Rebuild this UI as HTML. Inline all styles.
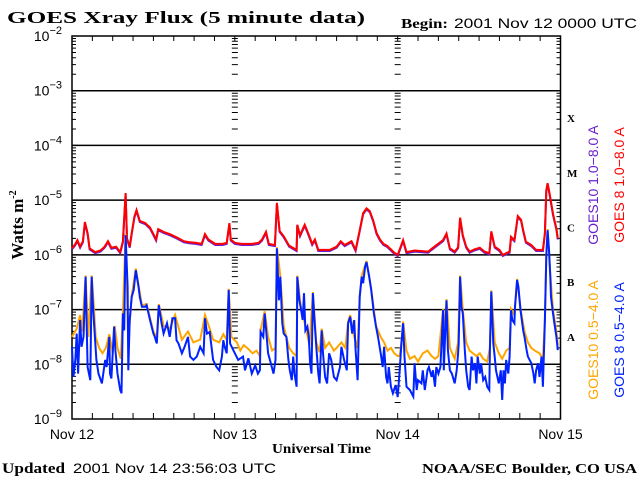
<!DOCTYPE html>
<html><head><meta charset="utf-8"><style>
html,body{margin:0;padding:0;background:#fff;}
svg{display:block;}
.sr{font-family:"Liberation Serif",serif;font-weight:bold;}
.ss{font-family:"Liberation Sans",sans-serif;}
</style></head><body>
<svg id="chart" width="640" height="480" viewBox="0 0 640 480" xmlns="http://www.w3.org/2000/svg">
<rect width="640" height="480" fill="#fff"/>
<text x="7" y="23" class="sr" font-size="17" textLength="358" lengthAdjust="spacingAndGlyphs">GOES Xray Flux (5 minute data)</text>
<text x="401" y="28" class="sr" font-size="14" textLength="47" lengthAdjust="spacingAndGlyphs">Begin:</text>
<text x="454" y="28" class="ss" font-size="14" textLength="183" lengthAdjust="spacingAndGlyphs">2001 Nov 12 0000 UTC</text>
<text transform="translate(23,225) rotate(-90)" text-anchor="middle" class="sr" font-size="17">Watts m<tspan font-size="10" dy="-7">-2</tspan></text>
<text x="272" y="453" class="sr" font-size="14" textLength="99" lengthAdjust="spacingAndGlyphs">Universal Time</text>
<text x="2" y="473" class="sr" font-size="15" textLength="63" lengthAdjust="spacingAndGlyphs">Updated</text>
<text x="73" y="473" class="ss" font-size="14" textLength="203" lengthAdjust="spacingAndGlyphs">2001 Nov 14 23:56:03 UTC</text>
<text x="422" y="473" class="sr" font-size="14" textLength="215" lengthAdjust="spacingAndGlyphs">NOAA/SEC Boulder, CO USA</text>
<text transform="translate(598,185) rotate(-90)" text-anchor="middle" class="ss" font-size="14" fill="#6a1fd0">GOES10 1.0−8.0 A</text>
<text transform="translate(598,340) rotate(-90)" text-anchor="middle" class="ss" font-size="14" fill="#ffa500">GOES10 0.5−4.0 A</text>
<text transform="translate(624,185) rotate(-90)" text-anchor="middle" class="ss" font-size="14" fill="#ff0000">GOES 8 1.0−8.0 A</text>
<text transform="translate(624,340) rotate(-90)" text-anchor="middle" class="ss" font-size="14" fill="#0022ff">GOES 8 0.5−4.0 A</text>
<g id="axes"></g>
<g id="series"></g>
</svg>
<script>
const dayLabels=["Nov 12","Nov 13","Nov 14","Nov 15"];
const decades=[-2,-3,-4,-5,-6,-7,-8,-9];
const classLetters=["X","M","C","B","A"];
const classLevels=[-3.5,-4.5,-5.5,-6.5,-7.5];
const g8LongT=[0,0.5,0.8,1.2,1.6,1.9,2.3,2.6,3.4,4.2,4.8,5.3,5.8,6.5,7.1,7.5,7.9,8.1,8.5,8.8,9.2,9.5,10,10.8,11.5,12.0,12.4,12.7,13.5,14.4,15.4,16.5,17.4,18.2,19.1,19.6,20.1,21.1,22.2,22.8,23.2,23.4,24,25,26.5,27.5,28,28.6,29,29.9,30.2,30.6,31.2,32,33.1,33.2,33.6,34.3,34.8,35.4,35.8,36.3,38,39,39.6,40.2,41.2,41.8,42.4,42.9,43.4,43.9,44.4,44.9,45.4,45.9,46.4,47.0,47.5,48,48.8,49.3,50.5,52.5,53,54.7,55.2,55.7,56.4,56.9,57.2,57.6,58.1,58.6,59.3,60.1,60.8,61.5,61.8,62.3,63,63.5,64.5,64.7,65.2,65.7,66.2,66.5,66.9,67.7,68.4,69.4,69.7,69.9,70.1,70.4,70.9,71.4,71.6];
const g8LongV=[-5.88,-5.8,-5.73,-5.85,-5.75,-5.4,-5.6,-5.88,-5.95,-5.92,-5.85,-5.75,-5.87,-5.85,-5.95,-5.75,-4.87,-5.7,-5.85,-5.6,-5.3,-5.18,-5.38,-5.42,-5.5,-5.62,-5.72,-5.53,-5.58,-5.62,-5.68,-5.75,-5.77,-5.78,-5.8,-5.62,-5.72,-5.8,-5.8,-5.78,-5.42,-5.72,-5.78,-5.8,-5.8,-5.78,-5.72,-5.58,-5.8,-5.82,-5.05,-5.56,-5.66,-5.83,-5.91,-5.45,-5.64,-5.45,-5.6,-5.8,-5.72,-5.91,-5.91,-5.85,-5.75,-5.82,-5.75,-5.91,-5.55,-5.24,-5.15,-5.2,-5.37,-5.6,-5.72,-5.8,-5.83,-5.9,-5.96,-6.0,-5.73,-5.95,-5.92,-5.94,-5.89,-5.73,-5.61,-5.88,-5.94,-5.86,-5.32,-5.64,-5.85,-5.94,-5.9,-5.87,-5.94,-5.97,-5.57,-5.85,-5.91,-6.0,-5.94,-5.67,-5.73,-5.29,-5.36,-5.55,-5.76,-5.82,-5.91,-5.91,-5.6,-4.82,-4.69,-4.88,-5.25,-5.52,-5.7];
const g8ShortT=[0,0.2,0.5,0.7,0.9,1.2,1.4,1.7,2.0,2.3,2.7,2.9,3.1,3.4,3.6,3.9,4.4,4.9,5.1,5.5,5.6,5.8,6.2,6.4,6.7,7.1,7.3,7.5,7.7,7.9,8.2,8.3,8.5,8.8,9.1,9.4,9.8,10.0,10.3,10.8,11.0,11.5,12.0,12.2,12.5,12.8,13.2,13.5,14.0,14.4,14.8,15.2,15.4,15.7,16.2,16.6,17.1,17.4,17.9,18.4,18.9,19.4,19.6,19.9,20.3,20.8,21.3,21.7,22.1,22.3,22.5,22.8,23.1,23.3,23.8,24.5,25.2,25.5,26.0,26.5,27.0,27.4,27.7,27.8,28.2,28.4,28.7,28.9,29.3,29.7,30.0,30.2,30.5,30.7,31.0,31.2,31.6,31.9,32.1,32.4,32.6,32.8,33.1,33.2,33.5,33.7,34.0,34.2,34.4,34.7,34.9,35.1,35.3,35.5,35.8,36.0,36.3,36.5,36.8,37.0,37.3,37.6,37.9,38.2,38.6,39.0,39.5,39.7,40.1,40.5,40.7,41.0,41.3,41.6,41.8,42.1,42.4,42.7,42.9,43.2,43.4,43.8,44.1,44.5,44.8,45.1,45.5,45.8,46.0,46.3,46.5,46.7,47.0,47.3,47.7,48.0,48.3,48.55,48.8,49.0,49.3,49.8,50.3,50.5,50.8,51.0,51.5,51.7,52.0,52.4,52.6,53.0,53.2,53.5,53.7,54.0,54.3,54.7,54.8,55.0,55.2,55.4,55.7,56.0,56.4,56.7,56.9,57.0,57.2,57.4,57.6,57.9,58.1,58.4,58.6,58.9,59.1,59.4,59.6,59.8,60.1,60.3,60.6,60.9,61.2,61.5,61.6,61.8,62.1,62.3,62.5,62.9,63.2,63.4,63.6,63.8,64.0,64.3,64.5,64.7,64.9,65.2,65.3,65.6,65.8,66.1,66.5,66.7,67.0,67.2,67.7,68.0,68.2,68.4,68.7,68.9,69.2,69.4,69.7,69.9,70.1,70.3,70.5,70.6,70.9,71.1,71.4,71.6];
const g8ShortV=[-7.68,-8.23,-7.9,-7.44,-8.17,-7.19,-7.68,-7.5,-6.4,-8.05,-8.29,-6.4,-6.95,-7.56,-7.92,-8.17,-8.35,-7.92,-8.05,-7.5,-8.17,-8.26,-7.31,-7.74,-8.17,-8.47,-8.53,-7.07,-7.38,-5.64,-6.58,-8.11,-7.19,-6.77,-6.64,-6.28,-6.58,-6.77,-6.95,-6.95,-6.92,-7.19,-7.44,-7.5,-7.62,-6.92,-7.25,-7.44,-7.25,-7.5,-7.16,-7.16,-7.56,-7.62,-7.8,-7.68,-7.5,-7.86,-7.92,-7.86,-7.68,-7.8,-7.16,-7.44,-7.41,-7.92,-8.05,-8.11,-7.86,-7.56,-7.68,-7.8,-6.64,-7.62,-7.75,-7.92,-7.86,-8.11,-7.89,-8.17,-8.02,-8.17,-8.11,-7.41,-7.5,-7.07,-7.5,-7.8,-7.98,-8.17,-7.92,-5.88,-6.83,-6.4,-7.25,-7.44,-7.5,-7.92,-8.11,-8.29,-7.86,-8.17,-8.41,-6.4,-6.83,-6.95,-7.19,-6.7,-7.38,-7.31,-7.5,-7.98,-8.17,-6.7,-7.31,-7.68,-8.17,-8.35,-7.38,-7.8,-8.23,-8.35,-7.8,-7.92,-8.23,-8.29,-8.05,-7.68,-7.92,-8.11,-7.25,-7.13,-7.44,-7.19,-7.74,-8.29,-6.77,-6.4,-6.52,-6.22,-6.13,-6.4,-6.64,-7.07,-7.31,-7.5,-7.8,-8.05,-7.68,-8.23,-8.35,-8.05,-8.41,-8.53,-8.38,-8.6,-8.11,-7.62,-7.25,-7.86,-8.41,-8.47,-8.59,-7.98,-8.47,-8.29,-8.35,-8.11,-8.47,-8.11,-8.05,-8.23,-8.11,-8.41,-8.05,-8.17,-8.05,-7.01,-8.11,-7.44,-6.83,-7.74,-8.11,-8.17,-8.35,-8.11,-7.8,-7.62,-6.4,-6.95,-7.07,-7.74,-8.11,-8.41,-8.47,-7.86,-8.11,-7.98,-8.35,-7.86,-8.17,-7.98,-8.29,-8.23,-8.41,-8.47,-7.74,-6.67,-7.62,-7.86,-8.11,-8.35,-8.11,-8.65,-8.11,-8.35,-7.92,-8.17,-7.86,-7.01,-7.19,-7.25,-6.95,-6.46,-6.58,-7.01,-7.38,-7.5,-7.74,-7.86,-7.98,-8.17,-8.35,-8.11,-7.98,-8.23,-7.86,-8.41,-7.19,-6.03,-5.55,-5.91,-6.4,-6.77,-7.07,-7.25,-7.5,-7.74];
const g10ShortT=[0,0.7,1.2,1.5,2.0,2.4,2.9,3.2,3.5,4.0,4.5,5.0,5.5,6.0,6.3,6.7,7.2,7.5,7.9,8.3,8.8,9.4,10.3,11.0,12.0,12.5,12.8,13.5,14.4,15.2,16.2,17.1,17.9,18.9,19.6,20.3,20.8,21.7,22.3,22.8,23.1,23.5,24.3,24.8,25.3,26.0,26.6,27.2,27.7,27.8,28.4,28.9,29.5,30.0,30.2,30.7,31.2,31.6,32.0,32.6,33.1,33.2,33.7,34.0,34.4,35.0,35.5,36.0,36.5,36.8,37.3,37.9,38.6,39.0,39.7,40.3,40.7,41.0,41.6,42.1,42.4,42.7,43.4,44.1,44.8,45.5,46.0,46.5,47.0,47.5,48.0,48.3,48.55,48.8,49.3,49.8,50.5,51.0,51.7,52.4,53.0,53.5,54.0,54.7,55.0,55.2,55.7,56.4,56.9,57.2,57.6,58.1,58.6,59.1,59.6,60.1,60.6,61.2,61.6,61.8,62.3,62.9,63.4,64.0,64.5,64.7,65.2,65.6,66.1,66.7,67.2,67.7,68.2,68.9,69.4,69.7,69.9,70.1,70.5,70.9,71.4,71.6];
const g10ShortV=[-7.5,-7.35,-7.1,-7.4,-6.38,-7.5,-6.38,-6.9,-7.5,-7.7,-7.8,-7.7,-7.45,-7.8,-7.3,-7.7,-7.9,-7.05,-5.62,-7.6,-6.75,-6.25,-6.92,-6.9,-7.4,-7.5,-6.9,-7.3,-7.35,-7.1,-7.55,-7.4,-7.6,-7.55,-7.1,-7.35,-7.55,-7.6,-7.45,-7.55,-6.62,-7.5,-7.6,-7.75,-7.65,-7.72,-7.8,-7.75,-7.85,-7.38,-7.03,-7.5,-7.75,-7.7,-5.86,-6.38,-7.3,-7.5,-7.7,-7.8,-7.85,-6.38,-6.92,-7.1,-7.3,-7.65,-6.68,-7.6,-7.78,-7.35,-7.7,-7.6,-7.75,-7.7,-7.6,-7.7,-7.22,-7.1,-7.5,-7.7,-6.75,-6.38,-6.11,-6.62,-7.3,-7.5,-7.6,-7.75,-7.7,-7.8,-7.85,-7.85,-7.6,-7.22,-7.75,-7.9,-7.85,-7.95,-7.8,-7.75,-7.85,-7.9,-7.85,-6.99,-7.3,-6.81,-7.7,-7.9,-7.6,-6.38,-7.0,-7.6,-7.75,-7.8,-7.85,-7.8,-7.9,-7.95,-7.7,-6.65,-7.6,-7.8,-7.9,-7.75,-7.7,-6.99,-7.1,-6.44,-6.98,-7.4,-7.6,-7.7,-7.75,-7.8,-7.9,-7.17,-6.0,-5.53,-6.35,-7.0,-7.4,-7.65];
const g10LongT=g8LongT;
const g10LongV=g8LongV;

const NS="http://www.w3.org/2000/svg";
const X0=72,X1=560.5,Y0=36,Y1=419,HOURS=72;
function xs(t){return X0+t*(X1-X0)/HOURS;}
function ys(l){return Y0+(-2-l)*(Y1-Y0)/7;}
function mk(parent,tag,attrs){const e=document.createElementNS(NS,tag);for(const k in attrs)e.setAttribute(k,attrs[k]);parent.appendChild(e);return e;}
const axes=document.getElementById('axes');
const series=document.getElementById('series');
decades.forEach((d,i)=>{
  const y=ys(d);
  if(d>-9&&d<-2){const ln=mk(axes,'line',{x1:X0,x2:X1,y1:y,y2:y,stroke:'#000','stroke-width':1.5});
  
  }
  const t=mk(axes,'text',{x:62,y:y+5,'text-anchor':'end','font-family':'Liberation Sans, sans-serif','font-size':14});
  
  
  t.textContent='10';
  const sp=mk(t,'tspan',{dy:-7,'font-size':11});sp.textContent=String(d).replace('-','−');
});
let tk='';
for(let d=-9;d<-2;d++){for(let m=1;m<10;m++){const y=ys(d+Math.log10(m));
  const len=m===1?6:4;
  tk+=`M${X0} ${y}h${len}M${X1} ${y}h${-len}M${xs(24)-3} ${y}h6M${xs(48)-3} ${y}h6`;}}
for(let h=3;h<72;h+=3){const x=xs(h);tk+=`M${x} ${Y0}v5M${x} ${Y1}v-6`;}
const tp=mk(axes,'path',{d:tk,stroke:'#000','stroke-width':1,fill:'none'});


const fr=mk(axes,'rect',{x:X0,y:Y0,width:X1-X0,height:Y1-Y0,fill:'none',stroke:'#000','stroke-width':1.5});


dayLabels.forEach((lab,i)=>{
  const t=mk(axes,'text',{x:xs(i*24),y:439,'text-anchor':'middle','font-family':'Liberation Sans, sans-serif','font-size':14});
  
  
  t.textContent=lab;
});
classLetters.forEach((c,i)=>{
  const t=mk(axes,'text',{x:567,y:ys(classLevels[i])+4,'font-family':'Liberation Serif, serif','font-weight':'bold','font-size':11});
  
  
  t.textContent=c;
});
function drawLine(T,V,color,name){
  let d='';T.forEach((t,i)=>{d+=(i?'L':'M')+xs(t).toFixed(1)+' '+ys(V[i]).toFixed(1);});
  const p=mk(series,'path',{d:d,stroke:color,'stroke-width':2,fill:'none','stroke-linejoin':'miter'});
  
  
}
drawLine(g10LongT,g10LongV.map(v=>v-0.02),'#6a1fd0','series-goes10-long');
drawLine(g8LongT,g8LongV,'#ff0000','series-goes8-long');
drawLine(g10ShortT,g10ShortV,'#ffa500','series-goes10-short');
drawLine(g8ShortT,g8ShortV,'#0022ff','series-goes8-short');
</script>
</body></html>
